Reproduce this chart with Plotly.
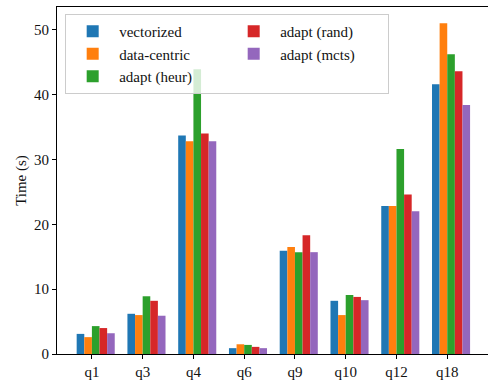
import plotly.graph_objects as go

queries = ["q1", "q3", "q4", "q6", "q9", "q10", "q12", "q18"]
series_names = ["vectorized", "data-centric", "adapt (heur)", "adapt (rand)", "adapt (mcts)"]
vectorized = [3.1, 6.2, 33.7, 0.9, 15.9, 8.2, 22.8, 41.6]
data_centric = [2.6, 6.0, 32.8, 1.5, 16.5, 6.0, 22.8, 51.0]
adapt_heur = [4.3, 8.9, 43.9, 1.4, 15.7, 9.1, 31.6, 46.2]
adapt_rand = [4.0, 8.2, 34.0, 1.1, 18.3, 8.8, 24.6, 43.6]
adapt_mcts = [3.2, 5.9, 32.8, 0.9, 15.7, 8.3, 22.0, 38.4]
series_values = [vectorized, data_centric, adapt_heur, adapt_rand, adapt_mcts]
colors = ["#1f77b4", "#ff7f0e", "#2ca02c", "#d62728", "#9467bd"]
legend_ranks = [1, 3, 5, 2, 4]  # column-wise legend order in a 2-column layout
y_ticks = [0, 10, 20, 30, 40, 50]

bar_w = 0.15
FONT = "Liberation Serif, Times New Roman, serif"

fig = go.Figure()
for k, (name, vals) in enumerate(zip(series_names, series_values)):
    fig.add_trace(go.Bar(
        x=queries, y=vals, name=name,
        marker=dict(color=colors[k], line=dict(width=0)),
        width=bar_w, offset=(k - 2) * bar_w,
        legendrank=legend_ranks[k],
    ))

fig.update_layout(
    width=488, height=380,
    margin=dict(l=57, r=0, t=7, b=26),
    paper_bgcolor="white", plot_bgcolor="white",
    barmode="overlay",
    font=dict(family=FONT, size=15, color="#222222"),
    showlegend=True,
    legend=dict(
        orientation="h",
        x=0.019, y=0.98, xanchor="left", yanchor="top",
        bgcolor="rgba(255,255,255,0.8)",
        bordercolor="#cccccc", borderwidth=1,
        font=dict(family=FONT, size=15, color="#111111"),
        entrywidth=103,
        itemwidth=43,
        traceorder="normal",
        tracegroupgap=0,
    ),
    xaxis=dict(
        type="category",
        categoryorder="array", categoryarray=queries,
        range=[-0.6875, 7.803],
        showgrid=False, zeroline=False,
        showline=True, linecolor="black", linewidth=1, mirror=True,
        ticks="outside", ticklen=4, tickwidth=1, tickcolor="black",
        tickfont=dict(family=FONT, size=15, color="#111111"),
    ),
    yaxis=dict(
        range=[0, 53.5],
        tickvals=y_ticks,
        showgrid=False, zeroline=False,
        showline=True, linecolor="black", linewidth=1, mirror=False,
        ticks="outside", ticklen=4, tickwidth=1, tickcolor="black",
        tickfont=dict(family=FONT, size=15, color="#111111"),
        title=dict(text="Time (s)", font=dict(family=FONT, size=15, color="#111111"), standoff=3),
    ),
)

fig.write_html("out.html", config={"displayModeBar": False})

# remove the browser's default page margin so the figure sits at the page origin
with open("out.html", "r", encoding="utf-8") as f:
    html = f.read()
html = html.replace("<head>", "<head><style>html,body{margin:0;padding:0;overflow:hidden;}</style>", 1)
with open("out.html", "w", encoding="utf-8") as f:
    f.write(html)
